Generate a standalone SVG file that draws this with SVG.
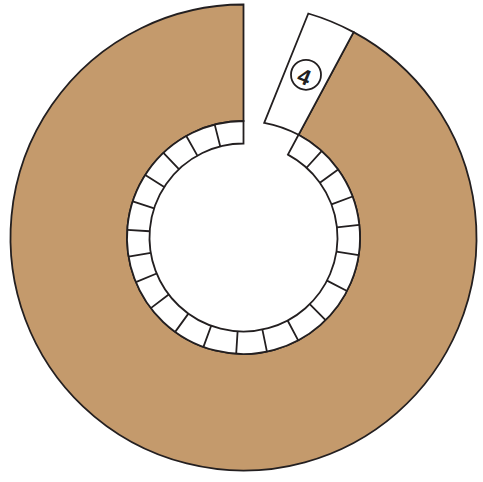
<svg xmlns="http://www.w3.org/2000/svg" width="483" height="482" viewBox="0 0 483 482">
<style>
.ln{stroke:#231f20;stroke-width:1.8;stroke-linejoin:miter}
.tan{fill:#c49a6c}
.wh{fill:#ffffff}
.dv{stroke:#231f20;stroke-width:1.8;fill:none}
.lbl{font-family:"Liberation Sans",Arial,sans-serif;font-size:22px;font-weight:bold;fill:#231f20;text-anchor:middle}
</style>
<rect width="483" height="482" fill="#ffffff"/>
<g id="outer-ring">
<path class="ln tan" d="M353.6,32.16 A233,233 0 1 1 243.5,4.5 L243.5,121 A116.5,116.5 0 1 0 298.55,134.83 Z"/>
</g>
<g id="segment-4">
<path class="ln wh" d="M264.2,122.8 L308.3,13.5 A233,233 0 0 1 353.6,32.16 L298.55,134.83 A116.5,116.5 0 0 0 264.2,122.8 Z"/>
<circle class="ln" cx="306" cy="74.8" r="15" fill="none"/>
<g transform="translate(304.5,76.5) rotate(22)"><text class="lbl" x="0" y="7.9">4</text></g>
</g>
<g id="inner-ring">
<path class="ln wh" d="M298.55,134.83 A116.5,116.5 0 1 1 243.5,121 L243.5,143.5 A94,94 0 1 0 287.92,154.66 Z"/>
</g>
<g id="connectors">
<path class="dv" d="M306.52,167.75L321.6,151.06 M319.87,182.65L338.14,169.52 M331.49,204.43L352.56,196.51 M336.95,227.35L359.32,224.92 M336.42,251.72L358.66,255.12 M327.03,280.61L347.02,290.93 M309.74,304.2L325.59,320.17 M287.63,320.5L298.19,340.36 M262.4,329.58L266.93,351.62 M237.6,331.32L236.18,353.77 M211.2,325.77L203.46,346.9 M188.39,313.64L175.2,331.87 M168.73,294.46L150.83,308.1 M156.66,273.47L135.87,282.08 M150.76,252.85L128.56,256.53 M149.71,231.27L127.26,229.78 M154.15,208.3L132.76,201.31 M164.22,186.99L145.24,174.9 M178.91,169.2L163.45,152.85 M197.36,155.6L186.32,136 M220.28,146.41L214.72,124.61"/>
</g>
</svg>
